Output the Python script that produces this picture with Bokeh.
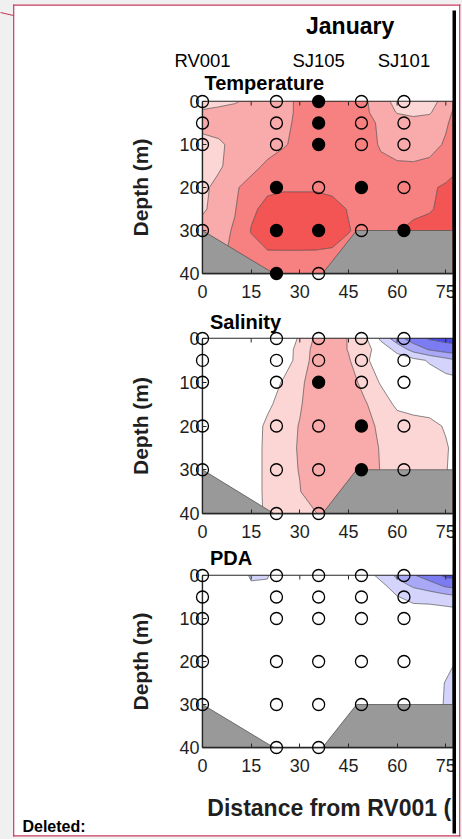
import numpy as np
from bokeh.plotting import figure
from bokeh.layouts import column
from bokeh.models import Range1d, FixedTicker
from bokeh.core.properties import value
from bokeh.embed import file_html
from bokeh.resources import INLINE

FONT = "Liberation Sans"
INK = "#1f1f1f"

# ---------------- data ----------------
month = "January"
station_names = ["RV001", "SJ105", "SJ101"]
station_label_x = [0.0, 35.8, 62.1]

x_ticks = [0, 15, 30, 45, 60, 75]
depth_ticks = [0, 10, 20, 30, 40]

# gridded fields (rows = depth, cols = distance)
grid_x = [0, 5, 10, 15, 20, 25, 30, 35, 40, 45, 50, 55, 60, 65, 70, 75, 80]
grid_depth = [0, 2.5, 5, 10, 15, 20, 25, 30, 35, 40]

temp_grid = [
    [1.2, 1.3, 1.4, 1.8, 2.0, 2.35, 2.6, 3.0, 3.0, 3.0, 2.65, 1.9, 1.2, 1.1, 1.2, 1.8, 3.0],
    [1.6, 1.7, 1.9, 2.0, 2.1, 2.35, 2.6, 3.0, 3.1, 3.0, 2.7, 2.0, 1.45, 1.3, 1.4, 2.2, 3.0],
    [1.8, 1.9, 2.0, 2.1, 2.2, 2.4, 2.6, 3.1, 3.1, 3.0, 2.9, 2.3, 1.9, 1.8, 1.9, 2.4, 3.0],
    [1.2, 1.35, 1.75, 2.0, 2.15, 2.4, 2.8, 3.2, 3.2, 3.1, 2.9, 2.4, 2.2, 2.1, 2.2, 2.6, 3.0],
    [1.25, 1.4, 1.8, 2.25, 2.65, 3.0, 3.2, 3.3, 3.3, 3.2, 3.0, 2.7, 2.6, 2.6, 2.7, 2.8, 3.45],
    [1.35, 1.7, 2.4, 2.8, 3.3, 3.4, 3.4, 3.4, 3.3, 3.2, 3.1, 3.1, 3.1, 3.1, 3.3, 3.7, 4.0],
    [1.35, 1.9, 2.45, 3.3, 3.8, 3.9, 3.9, 3.9, 3.8, 3.45, 3.2, 3.2, 3.25, 3.3, 3.4, 3.8, 4.0],
    [1.9, 2.2, 2.6, 3.55, 4.0, 4.1, 4.1, 4.0, 3.9, 3.55, 3.2, 3.3, 3.45, 3.7, 3.9, 4.0, 4.0],
    [2.0, 2.3, 2.7, 3.2, 3.45, 3.45, 3.45, 3.45, 3.4, 3.2, 3.3, 3.3, 3.3, 3.3, 3.3, 3.3, 3.3],
    [2.0, 2.3, 2.7, 3.1, 3.2, 3.2, 3.2, 3.2, 3.2, 3.2, 3.2, 3.2, 3.2, 3.2, 3.2, 3.2, 3.2],
]

sal_grid = [
    [0, 0, 0, 0, 0, 0.0, 0.6, 1.7, 2.0, 1.45, 0.7, -0.7, -2.1, -3.0, -3.6, -3.8, -3.8],
    [0, 0, 0, 0, 0, 0.05, 0.8, 1.9, 2.0, 1.45, 0.8, 0.1, -0.8, -1.9, -2.6, -3.0, -3.2],
    [0, 0, 0, 0, 0, 0.1, 0.8, 2.0, 2.1, 1.6, 0.7, 0.0, 0.0, -0.2, -0.6, -1.1, -1.6],
    [0, 0, 0, 0, 0.0, 0.6, 1.3, 2.0, 2.2, 1.9, 1.2, 0.4, 0.0, 0.0, 0.0, -0.1, -0.2],
    [0, 0, 0, 0.0, 0.3, 0.9, 1.4, 2.1, 2.3, 2.1, 1.6, 1.0, 0.3, 0.1, 0.0, 0.0, 0.0],
    [0, 0, 0, 0.0, 0.7, 1.1, 1.55, 2.2, 2.4, 2.3, 2.0, 1.2, 1.0, 0.9, 0.8, 0.4, 0.0],
    [0, 0, 0, 0.0, 0.75, 1.1, 1.6, 2.3, 2.4, 2.35, 2.1, 1.4, 1.0, 1.0, 0.9, 0.6, 0.0],
    [0, 0, 0, 0.0, 0.75, 1.1, 1.55, 2.3, 2.4, 2.35, 2.1, 1.45, 1.0, 1.0, 0.9, 0.55, 0.0],
    [0, 0, 0, 0.0, 0.75, 1.1, 1.45, 2.3, 2.3, 2.3, 2.3, 2.3, 2.3, 2.3, 2.3, 2.3, 2.3],
    [0, 0, 0, 0.0, 0.7, 0.9, 1.0, 1.45, 2.2, 2.2, 2.2, 2.2, 2.2, 2.2, 2.2, 2.2, 2.2],
]

pda_grid = [
    [0, 0, 0, -0.6, -0.55, 0, 0, 0, 0, 0, 0.0, -0.8, -1.7, -2.4, -3.0, -3.7, -3.9],
    [0, 0, 0, -0.4, -0.4, 0, 0, 0, 0, 0, 0.0, -0.2, -1.0, -1.6, -2.0, -2.6, -2.9],
    [0, 0, 0, 0, 0, 0, 0, 0, 0, 0, 0, 0, -0.45, -0.8, -0.9, -1.1, -1.4],
    [0, 0, 0, 0, 0, 0, 0, 0, 0, 0, 0, 0, 0, 0.2, 0.3, 0.3, 0.3],
    [0, 0, 0, 0, 0, 0, 0, 0, 0, 0, 0, 0, 0, 0, 0, 0, 0],
    [0, 0, 0, 0, 0, 0, 0, 0, 0, 0, 0, 0, 0, 0, 0, -0.2, -0.7],
    [0, 0, 0, 0, 0, 0, 0, 0, 0, 0, 0, 0, 0, 0, 0, -0.55, -0.8],
    [0, 0, 0, 0, 0, 0, 0, 0, 0, 0, 0, 0, 0, 0, 0, -0.6, -0.8],
    [0, 0, 0, 0, 0, 0, 0, 0, 0, 0, 0, 0, 0, 0, 0, -0.6, -0.8],
    [0, 0, 0, 0, 0, 0, 0, 0, 0, 0, 0, 0, 0, 0, 0, -0.6, -0.8],
]

# sampling positions (CTD casts)
sample_x = [0, 0, 0, 0, 0,
            22.8, 22.8, 22.8, 22.8, 22.8, 22.8,
            35.8, 35.8, 35.8, 35.8, 35.8, 35.8,
            49.0, 49.0, 49.0, 49.0, 49.0,
            62.1, 62.1, 62.1, 62.1, 62.1]
sample_depth = [0, 5, 10, 20, 30,
                0, 5, 10, 20, 30, 40,
                0, 5, 10, 20, 30, 40,
                0, 5, 10, 20, 30,
                0, 5, 10, 20, 30]
temp_signif = [0, 0, 0, 0, 0,
               0, 0, 0, 1, 1, 1,
               1, 1, 1, 0, 1, 0,
               0, 0, 0, 1, 0,
               0, 0, 0, 0, 1]
sal_signif = [0, 0, 0, 0, 0,
              0, 0, 0, 0, 0, 0,
              0, 0, 1, 0, 0, 0,
              0, 0, 0, 1, 1,
              0, 0, 0, 0, 0]
pda_signif = [0] * 27

# sea floor
bottom_x = [0, 22, 37, 47.5, 80]
bottom_depth = [30, 40, 40, 30, 30]

# colour classes
reds = ["#fcd5d5", "#f9aaaa", "#f78080", "#f35555"]
blues = ["#4b4bec", "#7c7cf2", "#a8a8f6", "#d3d3fb"]
temp_levels = [0.5, 1.5, 2.5, 3.5, 4.5]
temp_colors = reds
sal_levels = [-4.5, -3.5, -2.5, -1.5, -0.5, 0.5, 1.5, 2.5]
sal_colors = blues + ["#ffffff"] + reds[:2]
pda_levels = [-4.5, -3.5, -2.5, -1.5, -0.5, 0.5]
pda_colors = blues + ["#ffffff"]

# ---------------- layout constants ----------------
W = 462
PAGE_H = 839
LEFT = 202
RIGHT = 10
PX_PER_KM = 3.244
X_END = (W - LEFT - RIGHT) / PX_PER_KM
GREY = "#f0f0f0"
BORDER = "#c9395c"
AXIS = "#262626"


def page_decor(p, offset, H, top, frame_h):
    """Page chrome (grey margin, comment-box border, truncation bar) drawn
    in page pixels, converted to this figure's data space."""
    sy = frame_h / 40.0

    def cx(px):
        return (px - LEFT) / PX_PER_KM

    def cy(py):
        return (py - offset - top) / sy

    def rect(x0, x1, y0, y1, color):
        y0 = max(y0, offset - 2)
        y1 = min(y1, offset + H + 2)
        if y1 <= y0:
            return
        p.quad(left=[cx(x0)], right=[cx(x1)], top=[cy(y0)], bottom=[cy(y1)],
               fill_color=color, line_alpha=0, level="overlay")

    rect(-2, 13, 0, PAGE_H + 2, GREY)
    rect(460, W + 2, 0, PAGE_H + 2, GREY)
    rect(-2, W + 2, -2, 4, GREY)
    rect(-2, W + 2, 836, PAGE_H + 2, GREY)
    # comment box border
    rect(12.6, 13.8, 4, 836, BORDER)
    rect(458.6, 459.8, 4, 836, BORDER)
    rect(12.6, 459.8, 4, 5.2, BORDER)
    rect(12.6, 459.8, 834.8, 836, BORDER)
    if offset == 0:
        p.segment(x0=[cx(0)], y0=[cy(12)], x1=[cx(13)], y1=[cy(15)],
                  line_color=BORDER, line_width=1.1, level="overlay")
    # truncation bar
    rect(452, 455.5, 10, 833, "black")


def panel(H, top, bottom, offset, grid, levels, colors, signif, title, title_x, title_y):
    p = figure(width=W, height=H, x_range=Range1d(0, X_END), y_range=Range1d(40, 0),
               output_backend="svg", toolbar_location=None,
               min_border_left=LEFT, min_border_right=RIGHT,
               min_border_top=top, min_border_bottom=bottom,
               background_fill_color="white", border_fill_color="white",
               outline_line_color=AXIS, outline_line_width=1.3)
    p.grid.visible = False
    frame_h = H - top - bottom

    p.contour(x=grid_x, y=grid_depth, z=np.array(grid, dtype=float), levels=levels,
              fill_color=colors, line_color="#3c3c3c", line_width=0.6)

    p.varea(x=bottom_x, y1=bottom_depth, y2=[depth_ticks[-1]] * len(bottom_x),
            fill_color="#999999")
    p.line(bottom_x, bottom_depth, line_color="#555555", line_width=0.8)

    # inward tick marks along the top edge (outer half is clipped by the frame)
    p.scatter(x=x_ticks, y=[depth_ticks[0]] * len(x_ticks), marker="dash",
              angle=np.pi / 2, size=8, line_color=AXIS, line_width=1)

    open_x = [x for x, s in zip(sample_x, signif) if not s]
    open_d = [d for d, s in zip(sample_depth, signif) if not s]
    fill_x = [x for x, s in zip(sample_x, signif) if s]
    fill_d = [d for d, s in zip(sample_depth, signif) if s]
    p.scatter(open_x, open_d, size=12, marker="circle", fill_alpha=0,
              line_color="black", line_width=1.3, level="overlay")
    if fill_x:
        p.scatter(fill_x, fill_d, size=12, marker="circle", fill_color="black",
                  line_color="black", line_width=1.3, level="overlay")

    xa = p.xaxis[0]
    xa.ticker = FixedTicker(ticks=x_ticks)
    ya = p.yaxis[0]
    ya.ticker = FixedTicker(ticks=depth_ticks)
    for ax in (xa, ya):
        ax.major_tick_in = 4
        ax.major_tick_out = 0
        ax.minor_tick_line_color = None
        ax.axis_line_color = AXIS
        ax.axis_line_width = 1.3
        ax.major_tick_line_color = AXIS
        ax.major_label_text_font = FONT
        ax.major_label_text_font_size = "18px"
        ax.major_label_text_color = INK
    xa.major_label_standoff = 11
    ya.major_label_standoff = 3
    ya.axis_label = "Depth (m)"
    ya.axis_label_text_font = FONT
    ya.axis_label_text_font_style = "bold"
    ya.axis_label_text_font_size = "21px"
    ya.axis_label_text_color = INK
    ya.axis_label_standoff = 24

    p.text(x=[title_x], y=[title_y], text=[title], level="overlay",
           text_font=value(FONT), text_font_style="bold", text_font_size="20px",
           text_color="black", text_baseline="middle", text_align="left")
    page_decor(p, offset, H, top, frame_h)
    return p


p1 = panel(307, 101, 34, 0, temp_grid, temp_levels, temp_colors, temp_signif,
           "Temperature", 0.6, -4.4)
p1.text(x=station_label_x, y=[-9.6] * 3, text=station_names, level="overlay",
        text_font=value(FONT), text_font_size="18.5px", text_align="center",
        text_baseline="middle", text_color="black")
p1.text(x=[45.5], y=[-17.6], text=[month], level="overlay",
        text_font=value(FONT), text_font_style="bold", text_font_size="23px",
        text_align="center", text_baseline="middle", text_color="black")

p2 = panel(240, 31, 34, 307, sal_grid, sal_levels, sal_colors, sal_signif,
           "Salinity", 2.3, -3.7)
p3 = panel(292, 28, 92, 547, pda_grid, pda_levels, pda_colors, pda_signif,
           "PDA", 2.3, -4.1)
p3.text(x=[1.5], y=[54.0], text=["Distance from RV001 ("], level="overlay",
        text_font=value(FONT), text_font_style="bold", text_font_size="23px",
        text_align="left", text_baseline="middle", text_color=INK)
p3.text(x=[-55.5], y=[58.4], text=["Deleted:"], level="overlay",
        text_font=value(FONT), text_font_style="bold", text_font_size="16px",
        text_align="left", text_baseline="middle", text_color="black")

layout = column(p1, p2, p3, spacing=0)
open("out.html", "w").write(file_html(layout, INLINE))
